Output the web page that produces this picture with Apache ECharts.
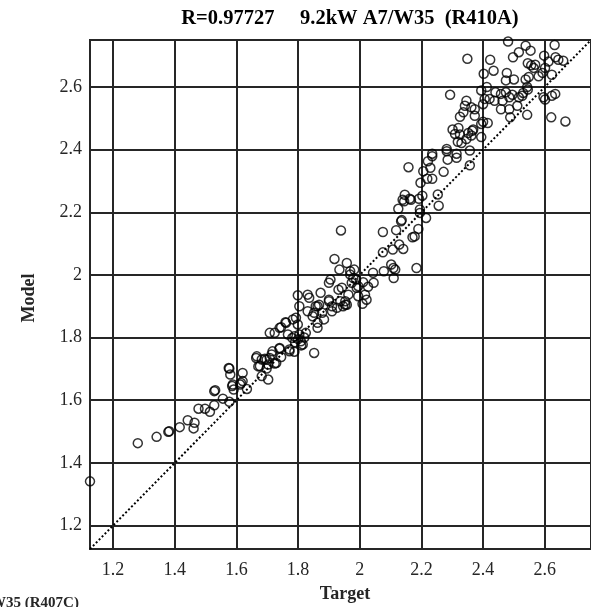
<!DOCTYPE html>
<html>
<head>
<meta charset="utf-8">
<script src="https://cdn.jsdelivr.net/npm/echarts@6/dist/echarts.min.js"></script>
<style>html,body{margin:0;padding:0;background:#fff;}#c{width:591px;height:607px;}</style>
</head>
<body>
<div id="c"></div>
<script>
const titleText = 'R=0.97727     9.2kW A7/W35  (R410A)';
const xName = 'Target';
const yName = 'Model';
const axisMin = 1.125;
const axisMax = 2.75;
const diagonal = [[1.125, 1.125], [2.75, 2.75]];

const target = [
1.125,1.280,1.341,1.379,1.382,1.416,1.442,1.464,1.461,1.477,1.498,1.514,1.528,1.528,1.531,1.556,1.577,1.586,1.591,1.615,
1.634,1.703,1.577,1.580,1.588,1.620,1.620,1.612,1.664,1.676,1.682,1.692,1.698,1.708,1.717,1.724,1.740,1.745,1.708,1.724,
1.745,1.761,1.767,1.772,1.781,1.788,1.783,1.799,1.799,1.804,1.804,1.809,1.815,1.825,1.831,1.836,1.831,1.847,1.852,1.857,
1.868,1.863,1.863,1.873,1.878,1.884,1.900,1.900,1.905,1.910,1.926,1.931,1.937,1.953,1.958,1.963,1.969,1.974,1.979,1.990,
1.995,1.863,1.852,1.793,1.759,1.740,1.788,1.800,1.820,1.790,1.810,1.740,1.772,1.666,1.682,1.698,1.714,1.671,1.703,1.729,
1.575,
1.939,1.918,1.934,1.958,1.969,1.982,1.988,1.995,2.011,2.017,2.022,2.009,2.027,2.045,2.043,2.075,2.075,2.078,2.102,2.107,
2.109,2.115,2.110,2.118,2.128,2.141,2.134,2.125,2.171,2.178,2.184,2.190,2.195,2.215,2.256,2.144,2.166,1.942,1.900,1.946,
1.953,1.910,
2.158,2.221,2.235,2.229,2.206,2.219,2.197,2.235,2.272,2.282,2.285,2.314,2.357,2.357,2.146,2.139,2.162,2.192,2.203,2.195,
2.136,2.253,2.301,2.320,2.325,2.330,2.352,2.368,2.394,
2.481,2.349,2.423,2.497,2.516,2.538,2.554,2.632,2.545,2.556,2.569,2.564,2.598,2.612,2.635,2.644,2.660,2.601,2.593,2.580,
2.548,2.538,2.500,2.477,2.474,2.434,2.402,2.543,2.623,2.293,2.394,2.412,2.440,2.421,2.458,2.474,2.485,2.495,2.516,2.527,
2.511,2.543,2.463,2.437,2.346,2.341,2.362,2.373,2.400,2.405,2.458,2.485,2.488,2.596,2.623,2.634,2.621,2.667,2.325,2.336,
2.373,2.400,2.415,2.394,2.309,2.318,2.365,2.362,2.346,2.282,2.235,2.314,2.601,2.530,2.545
];
const model = [
1.341,1.463,1.483,1.499,1.501,1.514,1.536,1.528,1.510,1.573,1.573,1.563,1.584,1.629,1.632,1.605,1.595,1.645,1.634,1.655,
1.636,1.666,1.701,1.682,1.650,1.687,1.661,1.650,1.735,1.709,1.677,1.732,1.701,1.735,1.756,1.717,1.764,1.738,1.815,1.815,
1.833,1.847,1.810,1.762,1.799,1.755,1.858,1.842,1.935,1.900,1.810,1.788,1.778,1.815,1.937,1.927,1.884,1.868,1.751,1.900,
1.905,1.847,1.831,1.943,1.879,1.858,1.916,1.975,1.985,1.884,1.895,1.953,1.916,1.916,1.905,1.937,2.001,1.975,1.990,1.959,
1.932,1.900,1.879,1.863,1.849,1.831,1.804,1.795,1.800,1.785,1.775,1.767,1.756,1.740,1.730,1.730,1.746,1.708,1.714,1.719,
1.703,
2.142,2.051,2.017,2.038,2.012,2.017,1.985,1.964,1.977,1.937,1.921,1.908,1.962,1.975,2.007,2.137,2.072,2.012,2.033,2.081,
2.022,2.017,1.990,2.143,2.097,2.083,2.171,2.211,2.120,2.123,2.022,2.147,2.198,2.182,2.221,2.235,2.240,1.959,1.921,1.900,
1.905,1.900,
2.344,2.363,2.379,2.342,2.331,2.307,2.294,2.307,2.329,2.395,2.368,2.374,2.350,2.397,2.256,2.240,2.243,2.243,2.253,2.209,
2.175,2.257,2.464,2.469,2.448,2.421,2.453,2.464,2.440,
2.745,2.690,2.687,2.695,2.711,2.732,2.716,2.734,2.676,2.669,2.671,2.661,2.700,2.681,2.695,2.687,2.684,2.661,2.645,2.634,
2.632,2.624,2.624,2.645,2.621,2.652,2.642,2.600,2.639,2.575,2.589,2.600,2.583,2.562,2.578,2.583,2.567,2.575,2.567,2.572,
2.540,2.511,2.556,2.556,2.556,2.540,2.535,2.529,2.545,2.562,2.529,2.529,2.503,2.567,2.572,2.578,2.503,2.490,2.505,2.519,
2.508,2.489,2.485,2.482,2.450,2.425,2.460,2.445,2.434,2.402,2.387,2.387,2.560,2.581,2.592
];

const points = target.map((t, i) => [t, model[i]]);

const chart = echarts.init(document.getElementById('c'), null, {renderer: 'canvas'});
const serif = 'Liberation Serif';
const axisCommon = {
  type: 'value',
  min: axisMin,
  max: axisMax,
  splitNumber: 8,
  axisLine: {show: true, lineStyle: {color: '#262626', width: 2}},
  axisTick: {show: false},
  splitLine: {show: true, lineStyle: {color: '#262626', width: 2}},
  axisLabel: {showMinLabel: false, showMaxLabel: false, color: '#262626', fontFamily: serif, fontSize: 18}
};
chart.setOption({
  animation: false,
  backgroundColor: '#fff',
  title: {
    text: titleText,
    left: 345, top: 3, textAlign: 'center',
    textStyle: {fontFamily: serif, fontWeight: 'bold', fontSize: 20.5, color: '#000'}
  },
  grid: {left: 90, top: 40, width: 509, height: 509, show: true, borderColor: '#262626', borderWidth: 2, backgroundColor: 'transparent'},
  xAxis: Object.assign({}, axisCommon, {
    axisLabel: Object.assign({}, axisCommon.axisLabel, {margin: 12})
  }),
  yAxis: Object.assign({}, axisCommon, {
    axisLabel: Object.assign({}, axisCommon.axisLabel, {margin: 8})
  }),
  graphic: [
    {type: 'text', x: 345, y: 594, style: {text: xName, font: 'bold 18px "Liberation Serif"', fill: '#262626', align: 'center', verticalAlign: 'middle'}},
    {type: 'text', x: 29, y: 298, rotation: Math.PI / 2, style: {text: yName, font: 'bold 18px "Liberation Serif"', fill: '#262626', align: 'center', verticalAlign: 'middle'}},
    {type: 'text', left: -9, top: 596, style: {text: 'W35 (R407C)', font: 'bold 15px "Liberation Serif"', fill: '#262626'}}
  ],
  series: [
    {
      type: 'line',
      data: diagonal,
      symbol: 'none',
      lineStyle: {color: '#000', width: 2, type: [2, 2.2]},
      z: 3
    },
    {
      type: 'scatter',
      data: points,
      symbol: 'circle',
      symbolSize: 9,
      clip: false,
      itemStyle: {color: 'rgba(0,0,0,0)', borderColor: '#000', borderWidth: 1.5},
      z: 4
    }
  ]
});
</script>
</body>
</html>
